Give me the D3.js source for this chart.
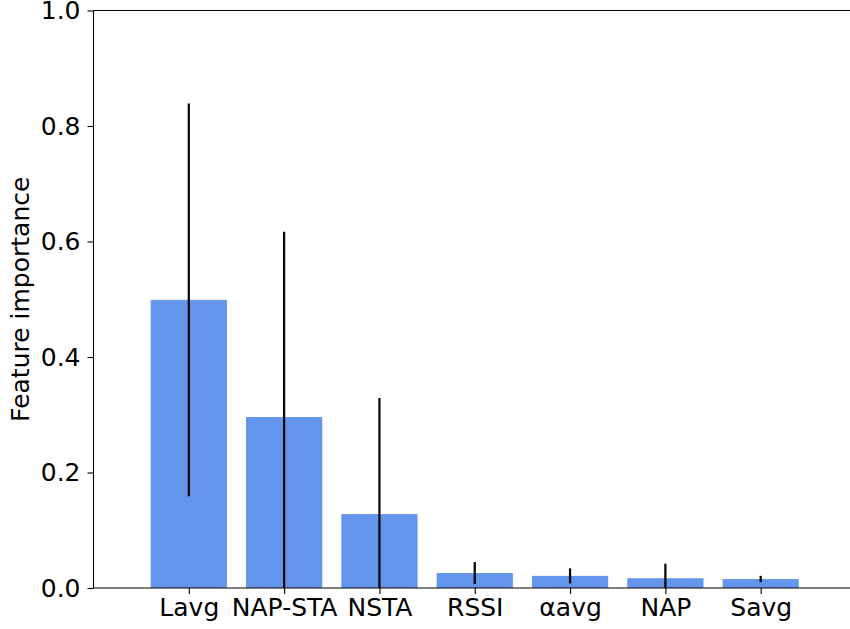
<!DOCTYPE html>
<html>
<head>
<meta charset="utf-8">
<script src="https://cdn.jsdelivr.net/npm/d3@7"></script>
<style>
  html, body { margin: 0; padding: 0; background: #fff; }
  svg { display: block; font-family: "DejaVu Sans", sans-serif; }
</style>
</head>
<body>
<svg id="chart" width="850" height="629"></svg>
<script>
// Feature importances (mean) with their standard deviation across trees
const features = ["Lavg", "NAP-STA", "NSTA", "RSSI", "αavg", "NAP", "Savg"];
const importance = [0.499, 0.296, 0.128, 0.026, 0.021, 0.017, 0.0155];
const stdDev = [0.340, 0.321, 0.201, 0.019, 0.013, 0.025, 0.0055];
const yTicks = [0.0, 0.2, 0.4, 0.6, 0.8, 1.0];

const svg = d3.select("#chart");
const margin = { left: 93.5, top: 10.5, bottom: 588 };
const fontSize = "25px";

// x positions: feature index, axis spans -1 .. 7
const x = d3.scaleLinear().domain([-1, 7]).range([margin.left, 856]);
const y = d3.scaleLinear().domain([0, 1]).range([margin.bottom, margin.top]);
const barWidth = x(0.8) - x(0);

const clipId = "plot-clip";
svg.append("clipPath").attr("id", clipId)
  .append("rect")
  .attr("x", margin.left).attr("y", margin.top)
  .attr("width", 850 - margin.left).attr("height", margin.bottom - margin.top);

const plot = svg.append("g").attr("clip-path", `url(#${clipId})`);

// bars
plot.selectAll("rect.bar")
  .data(features)
  .join("rect")
  .attr("class", "bar")
  .attr("x", (d, i) => x(i) - barWidth / 2)
  .attr("width", barWidth)
  .attr("y", (d, i) => y(importance[i]))
  .attr("height", (d, i) => y(0) - y(importance[i]))
  .attr("fill", "#6495ED");

// error bars (mean ± std)
plot.selectAll("line.err")
  .data(features)
  .join("line")
  .attr("class", "err")
  .attr("x1", (d, i) => x(i))
  .attr("x2", (d, i) => x(i))
  .attr("y1", (d, i) => y(importance[i] + stdDev[i]))
  .attr("y2", (d, i) => y(Math.max(importance[i] - stdDev[i], -0.01)))
  .attr("stroke", "#000")
  .attr("stroke-width", 2.2);

// axes
const yAxis = d3.axisLeft(y)
  .tickValues(yTicks)
  .tickFormat(d3.format(".1f"))
  .tickSize(6)
  .tickPadding(7);

const xAxis = d3.axisBottom(x)
  .tickValues(d3.range(features.length))
  .tickFormat(i => features[i])
  .tickSize(6)
  .tickPadding(4);

const gy = svg.append("g")
  .attr("transform", `translate(${margin.left},0)`)
  .call(yAxis);

const gx = svg.append("g")
  .attr("transform", `translate(0,${margin.bottom})`)
  .call(xAxis);

[gx, gy].forEach(g => {
  g.attr("font-size", null).attr("font-family", null);
  g.select(".domain").remove();
  g.selectAll(".tick line").attr("stroke", "#000").attr("stroke-width", 1.1);
  g.selectAll(".tick text").attr("fill", "#000").style("font-size", fontSize)
    .style("font-family", "DejaVu Sans, sans-serif");
});

// spines: left, bottom, top
const spine = svg.append("g").attr("stroke", "#000").attr("stroke-width", 1.1).attr("fill", "none");
spine.append("line").attr("x1", margin.left).attr("x2", margin.left)
  .attr("y1", margin.top).attr("y2", margin.bottom);
spine.append("line").attr("x1", margin.left).attr("x2", 850)
  .attr("y1", margin.bottom).attr("y2", margin.bottom);
spine.append("line").attr("x1", margin.left).attr("x2", 850)
  .attr("y1", margin.top).attr("y2", margin.top);

// y-axis title
svg.append("text")
  .attr("transform", `translate(29,${(margin.top + margin.bottom) / 2}) rotate(-90)`)
  .attr("text-anchor", "middle")
  .style("font-size", fontSize)
  .style("font-family", "DejaVu Sans, sans-serif")
  .attr("fill", "#000")
  .text("Feature importance");
</script>
</body>
</html>
